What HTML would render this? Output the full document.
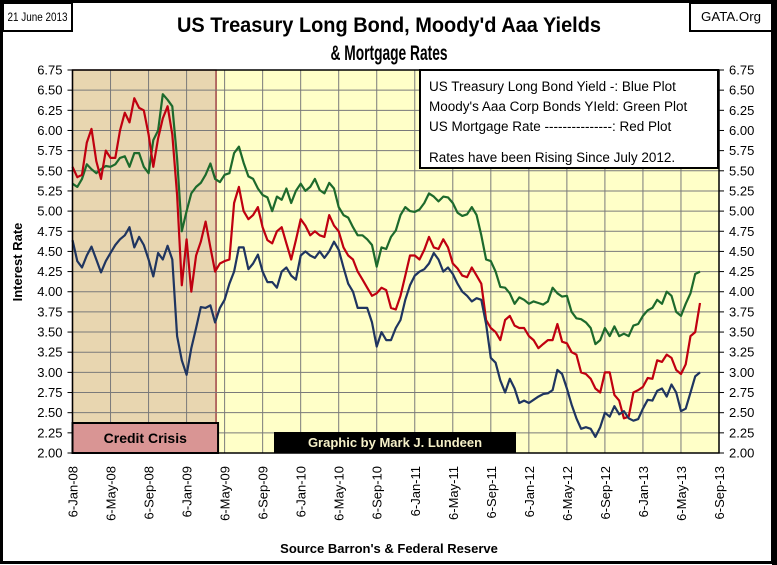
<!DOCTYPE html>
<html><head><meta charset="utf-8">
<style>
html,body{margin:0;padding:0;background:#fff;}
#wrap{position:relative;width:777px;height:565px;overflow:hidden;}
svg text{font-family:"Liberation Sans Narrow","Liberation Sans",sans-serif;}
</style></head>
<body>
<div id="wrap">
<svg id="chart" width="777" height="565" viewBox="0 0 777 565" xmlns="http://www.w3.org/2000/svg">
  <rect x="1.5" y="1.5" width="771" height="561" fill="#fff" stroke="#000" stroke-width="3"/>
  <rect x="772" y="0" width="5" height="565" fill="#000"/>
  <rect x="3" y="3" width="69" height="28" fill="#fff" stroke="#000" stroke-width="2"/>
  <text x="37.5" y="21" font-size="12" text-anchor="middle" textLength="60" lengthAdjust="spacingAndGlyphs">21 June 2013</text>
  <rect x="690" y="3" width="82" height="28" fill="#fff" stroke="#000" stroke-width="2"/>
  <text x="731" y="21" font-size="13" text-anchor="middle" textLength="60" lengthAdjust="spacingAndGlyphs">GATA.Org</text>
  <text x="389" y="32" font-size="21" font-weight="bold" text-anchor="middle" textLength="424" lengthAdjust="spacingAndGlyphs">US Treasury  Long Bond, Moody'd Aaa Yields</text>
  <text x="389" y="60" font-size="21" font-weight="bold" text-anchor="middle" textLength="117" lengthAdjust="spacingAndGlyphs">&amp; Mortgage Rates</text>
  <g id="plot"></g>
  <text transform="translate(22,262) rotate(-90)" font-size="13" font-weight="bold" text-anchor="middle">Interest Rate</text>
  <text x="389" y="553" font-size="13" font-weight="bold" text-anchor="middle">Source Barron's &amp; Federal Reserve</text>
</svg>
</div>
<script>
// ---- data (half-month steps from 6-Jan-08) ----
const xTickLabels = ["6-Jan-08","6-May-08","6-Sep-08","6-Jan-09","6-May-09","6-Sep-09","6-Jan-10","6-May-10","6-Sep-10","6-Jan-11","6-May-11","6-Sep-11","6-Jan-12","6-May-12","6-Sep-12","6-Jan-13","6-May-13","6-Sep-13"];
const yTicks = [2.00,2.25,2.50,2.75,3.00,3.25,3.50,3.75,4.00,4.25,4.50,4.75,5.00,5.25,5.50,5.75,6.00,6.25,6.50,6.75];
const moodysAaa = [5.34,5.30,5.40,5.58,5.52,5.47,5.52,5.56,5.55,5.58,5.66,5.68,5.55,5.72,5.72,5.55,5.47,5.88,6.00,6.45,6.38,6.30,5.65,4.75,5.00,5.22,5.30,5.35,5.45,5.59,5.40,5.36,5.45,5.47,
5.72,5.80,5.60,5.43,5.40,5.28,5.20,5.17,5.00,5.18,5.14,5.28,5.10,5.25,5.34,5.25,5.30,5.40,5.26,5.22,5.35,5.28,5.05,4.95,4.92,4.80,4.70,4.70,4.65,4.58,4.31,4.55,4.53,4.68,4.76,4.95,5.05,5.00,4.99,5.02,
5.10,5.22,5.18,5.12,5.18,5.17,5.10,4.98,4.94,4.96,5.05,4.95,4.70,4.40,4.38,4.25,4.06,4.05,3.98,3.85,3.93,3.90,3.85,3.88,3.86,3.84,3.88,4.05,3.98,
3.94,3.95,3.75,3.67,3.66,3.62,3.55,3.35,3.40,3.55,3.45,3.57,3.45,3.48,3.45,3.58,3.60,3.70,3.77,3.80,3.90,3.85,4.00,3.95,3.75,3.70,3.85,3.98,4.22,4.25];
const mortgage = [5.55,5.42,5.45,5.85,6.02,5.62,5.40,5.75,5.66,5.66,6.00,6.22,6.10,6.40,6.28,6.25,5.95,5.55,5.90,6.15,6.30,5.95,5.20,4.08,4.65,4.00,4.45,4.62,4.87,4.55,4.25,4.35,4.38,4.40,
5.10,5.30,5.00,4.90,4.95,5.05,4.80,4.64,4.60,4.75,4.80,4.60,4.40,4.64,4.90,4.82,4.70,4.75,4.70,4.68,4.95,4.82,4.75,4.55,4.45,4.40,4.25,4.15,4.05,3.95,3.98,4.05,4.02,3.80,3.78,3.95,4.20,4.45,4.45,4.40,
4.52,4.68,4.55,4.53,4.65,4.55,4.35,4.29,4.20,4.18,4.30,4.20,4.10,3.65,3.55,3.50,3.40,3.65,3.70,3.58,3.55,3.55,3.45,3.40,3.30,3.35,3.40,3.40,3.60,
3.38,3.36,3.25,3.22,3.00,2.98,2.92,2.80,2.75,3.00,3.00,2.72,2.65,2.43,2.45,2.75,2.78,2.82,2.93,2.92,3.15,3.13,3.22,3.18,3.03,2.98,3.10,3.45,3.50,3.86];
const treasury = [4.64,4.38,4.30,4.45,4.56,4.40,4.24,4.38,4.48,4.58,4.65,4.70,4.80,4.55,4.68,4.58,4.40,4.19,4.48,4.40,4.57,4.40,3.45,3.15,2.97,3.30,3.55,3.81,3.80,3.83,3.62,3.80,3.90,4.10,
4.25,4.55,4.55,4.28,4.35,4.46,4.25,4.12,4.12,4.05,4.25,4.30,4.20,4.15,4.45,4.50,4.45,4.42,4.50,4.42,4.50,4.62,4.52,4.30,4.10,4.00,3.80,3.80,3.80,3.62,3.32,3.50,3.40,3.40,3.55,3.65,3.90,4.08,4.20,4.25,
4.28,4.35,4.48,4.40,4.25,4.30,4.22,4.10,4.00,3.95,3.88,3.92,3.90,3.60,3.18,3.12,2.90,2.75,2.92,2.80,2.62,2.65,2.62,2.66,2.70,2.73,2.74,2.78,3.03,
2.98,2.80,2.60,2.43,2.30,2.32,2.30,2.20,2.32,2.50,2.45,2.58,2.48,2.52,2.43,2.40,2.42,2.55,2.66,2.65,2.77,2.80,2.70,2.85,2.75,2.52,2.55,2.75,2.95,3.00];
const crisisEnd = 30.2; // half-months from start

// ---- layout ----
const L=72.5, R=719, T=70, B=453;
const halfMonthPx = (R-L)/(17*8);
const xScale = t => L + t*halfMonthPx;
const yScale = v => B - (v-2.0)/(6.75-2.0)*(B-T);
const NS="http://www.w3.org/2000/svg";
const plot=document.getElementById('plot');
function mk(tag,attrs,parent){const e=document.createElementNS(NS,tag);for(const k in attrs)e.setAttribute(k,attrs[k]);(parent||plot).appendChild(e);return e;}

let bg=mk('rect',{x:L,y:T,width:R-L,height:B-T,fill:'#ffffc8'});


let cr=mk('rect',{x:L,y:T,width:xScale(crisisEnd)-L,height:B-T,fill:'#e8d6b0',stroke:'#8b1a2a','stroke-width':1.2});



yTicks.forEach((v,i)=>{
  const y=yScale(v);
  const g=mk('line',{x1:L,x2:R,y1:y,y2:y,stroke:'#7a7a7a','stroke-width':1});
  
  
  const tl=mk('line',{x1:L-5,x2:L,y1:y,y2:y,stroke:'#000','stroke-width':1});
  
  
  const tr=mk('line',{x1:R,x2:R+5,y1:y,y2:y,stroke:'#000','stroke-width':1});
  
  
  const a=mk('text',{x:L-10,y:y+4.5,'font-size':13,'text-anchor':'end'});
  a.textContent=v.toFixed(2);
  
  
  const b=mk('text',{x:R+10,y:y+4.5,'font-size':13,'text-anchor':'start'});
  b.textContent=v.toFixed(2);
  
  
});
xTickLabels.forEach((lab,i)=>{
  const x=xScale(i*8);
  const g=mk('line',{x1:x,x2:x,y1:T,y2:B,stroke:'#7a7a7a','stroke-width':1});
  
  
  const t=mk('text',{transform:`translate(${x+5},${B+13}) rotate(-90)`,'font-size':13,'text-anchor':'end'});
  t.textContent=lab;
  
  
});

function series(vals,color,name){
  const d=vals.map((v,i)=>(i?'L':'M')+xScale(i).toFixed(1)+' '+yScale(v).toFixed(1)).join(' ');
  const p=mk('path',{d:d,fill:'none',stroke:color,'stroke-width':2.2,'stroke-linejoin':'round'});
  
  
}
series(moodysAaa,'#1d6a2c','moodys-aaa-line');
series(mortgage,'#c00010','mortgage-rate-line');
series(treasury,'#1f3560','treasury-long-bond-line');

let fr=mk('rect',{x:L,y:T,width:R-L,height:B-T,fill:'none',stroke:'#000','stroke-width':1.5});



let cb=mk('rect',{x:L,y:423,width:xScale(crisisEnd)-L+2,height:30,fill:'#d99594',stroke:'#000','stroke-width':2});


let ct=mk('text',{x:(L+xScale(crisisEnd))/2+1,y:443,'font-size':14,'font-weight':'bold','text-anchor':'middle'});
ct.textContent='Credit Crisis';



let gb=mk('rect',{x:274,y:432,width:242,height:21,fill:'#000'});


let gt=mk('text',{x:395,y:447,'font-size':13,'font-weight':'bold','text-anchor':'middle',fill:'#f5f0c8','font-family':'"Liberation Serif",serif'});
gt.textContent='Graphic by Mark J. Lundeen';



let lb=mk('rect',{x:420,y:70,width:298,height:98,fill:'#fff',stroke:'#000','stroke-width':2});


const legendLines=["US Treasury Long  Bond Yield -:  Blue Plot","Moody's Aaa Corp Bonds YIeld:  Green Plot","US Mortgage Rate ---------------:   Red Plot","","Rates have been Rising Since July 2012."];
const legendNames=['legend-entry-treasury','legend-entry-moodys','legend-entry-mortgage','','legend-note'];
const legendY=[91,111,131,0,162];
legendLines.forEach((s,i)=>{
  if(!s)return;
  const t=mk('text',{x:429,y:legendY[i],'font-size':13.5});
  t.textContent=s;
  
  
});
</script>
</body></html>
